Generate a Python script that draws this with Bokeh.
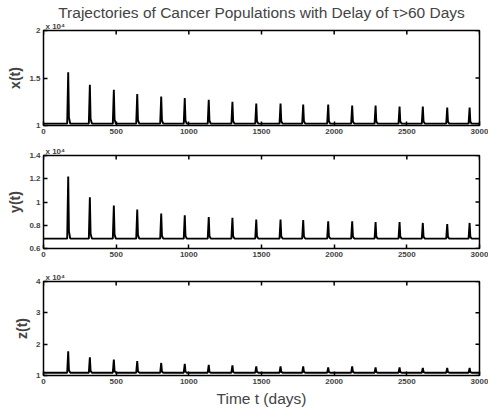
import math
from bokeh.plotting import figure
from bokeh.layouts import column
from bokeh.models import Range1d, FixedTicker, Title
from bokeh.embed import file_html
from bokeh.resources import INLINE

# ---- data ----
peak_times = [170, 319, 484, 645, 810, 972, 1137, 1300, 1464, 1631, 1787,
              1959, 2124, 2285, 2450, 2610, 2778, 2932]
x_peaks = [1.56, 1.43, 1.375, 1.33, 1.305, 1.29, 1.27, 1.25, 1.23, 1.23,
           1.22, 1.22, 1.21, 1.21, 1.20, 1.20, 1.19, 1.19]
x_base = 1.02
y_peaks = [1.22, 1.04, 0.97, 0.935, 0.90, 0.885, 0.87, 0.865, 0.85, 0.85,
           0.845, 0.835, 0.835, 0.827, 0.827, 0.82, 0.81, 0.82]
y_base = 0.685
z_peaks = [1.77, 1.58, 1.51, 1.46, 1.40, 1.37, 1.34, 1.32, 1.29, 1.29,
           1.29, 1.26, 1.29, 1.26, 1.26, 1.24, 1.24, 1.24]
z_base = 1.09

x_ticks = [0, 500, 1000, 1500, 2000, 2500, 3000]
x_tick_labels = ["0", "500", "1000", "1500", "2000", "2500", "3000"]
top_ticks = [1, 1.5, 2]
top_tick_labels = ["1", "1.5", "2"]
mid_ticks = [0.6, 0.8, 1.0, 1.2, 1.4]
mid_tick_labels = ["0.6", "0.8", "1", "1.2", "1.4"]
bot_ticks = [1, 2, 3, 4]
bot_tick_labels = ["1", "2", "3", "4"]

title_text = "Trajectories of Cancer Populations with Delay of \u03c4>60 Days"
exp_text = "x 10\u2074"
FONT = "Liberation Sans"


def trajectory(times, peaks, base):
    ts, vs = [0], [base]
    for t, pk in zip(times, peaks):
        ts += [t - 7, t, t + 5, t + 14]
        vs += [base, pk, base + 0.12 * (pk - base), base]
    ts.append(3000)
    vs.append(base)
    return ts, vs


def exp_title():
    return Title(text=exp_text, align="left", text_font=FONT,
                 text_font_style="bold", text_font_size="8px",
                 offset=2, standoff=0)


def make_panel(height, top, bottom, yr, yticks, ylabels, ylabel, peaks, base,
               title=None, xlabel=None):
    p = figure(width=488, height=height, output_backend="svg",
               toolbar_location=None, x_range=Range1d(0, 3000),
               y_range=Range1d(*yr), min_border_left=43, min_border_right=9,
               min_border_top=top, min_border_bottom=bottom)
    p.grid.visible = False
    p.outline_line_color = "black"
    p.outline_line_width = 1.5
    p.background_fill_color = "white"
    p.border_fill_color = "white"
    ts, vs = trajectory(peak_times, peaks, base)
    p.line(ts, vs, line_color="black", line_width=1.9)

    # inward ticks on the top and right edges
    p.ray(x=x_ticks, y=[yr[1]] * len(x_ticks), length=4, angle=-math.pi / 2,
          length_units="screen", line_color="black", line_width=1.5)
    p.ray(x=[3000] * len(yticks), y=yticks, length=4, angle=math.pi,
          length_units="screen", line_color="black", line_width=1.5)

    xa = p.xaxis[0]
    xa.ticker = FixedTicker(ticks=x_ticks)
    xa.major_label_overrides = dict(zip(x_ticks, x_tick_labels))
    ya = p.yaxis[0]
    ya.ticker = FixedTicker(ticks=yticks)
    ya.major_label_overrides = dict(zip(yticks, ylabels))
    for ax in (xa, ya):
        ax.axis_line_color = None
        ax.major_tick_in = 4
        ax.major_tick_out = 0
        ax.minor_tick_line_color = None
        ax.major_tick_line_width = 1.5
        ax.major_label_text_font = FONT
        ax.major_label_text_font_style = "bold"
        ax.major_label_text_font_size = "8px"
        ax.major_label_standoff = 3
    ya.axis_label = ylabel
    ya.axis_label_text_font = FONT
    ya.axis_label_text_font_style = "bold"
    ya.axis_label_text_font_size = "14px"
    ya.axis_label_standoff = 3
    if xlabel:
        xa.axis_label = xlabel
        xa.axis_label_text_font = FONT
        xa.axis_label_text_font_style = "normal"
        xa.axis_label_text_font_size = "15.5px"
        xa.axis_label_standoff = 3

    if title:
        p.title = Title(text=title, align="center", text_font=FONT,
                        text_font_style="normal", text_font_size="15.5px",
                        standoff=-2)
        p.add_layout(exp_title(), "above")
    else:
        p.title = exp_title()
    return p


p1 = make_panel(140, 30, 15, (1, 2), top_ticks, top_tick_labels, "x(t)",
                x_peaks, x_base, title=title_text)
p2 = make_panel(125, 15, 17, (0.6, 1.4), mid_ticks, mid_tick_labels, "y(t)",
                y_peaks, y_base)
p3 = make_panel(145, 16, 35, (1, 4), bot_ticks, bot_tick_labels, "z(t)",
                z_peaks, z_base, xlabel="Time t (days)")

layout = column(p1, p2, p3, spacing=0)
open("out.html", "w").write(file_html(layout, INLINE))
